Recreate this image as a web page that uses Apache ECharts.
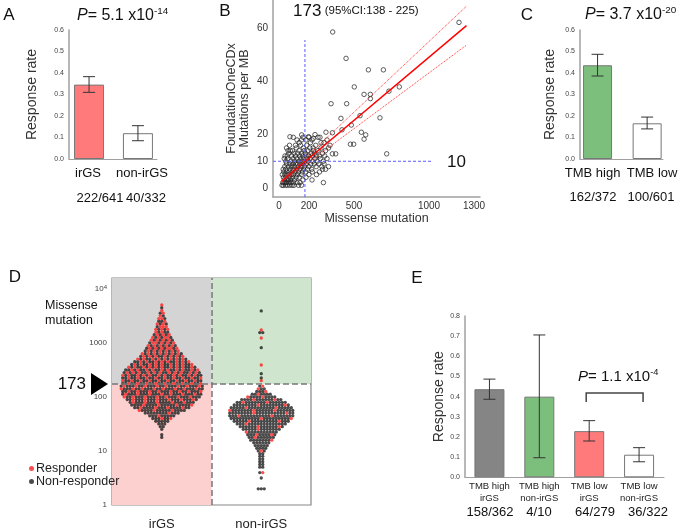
<!DOCTYPE html>
<html><head><meta charset="utf-8">
<script src="https://cdn.jsdelivr.net/npm/echarts@6/dist/echarts.min.js"></script>
<style>html,body{margin:0;padding:0;background:#fff}#c{width:680px;height:531px}</style>
</head><body><div id="c"></div>
<script>
// ---------- Panel A ----------
const catA = ['irGS', 'non-irGS'];
const rateA = [0.346, 0.120];
const loA = [0.310, 0.085];
const hiA = [0.383, 0.155];
const countsA = ['222/641', '40/332'];
const pA = ['5.1', '-14'];
// ---------- Panel C ----------
const catC = ['TMB high', 'TMB low'];
const rateC = [0.436, 0.166];
const loC = [0.386, 0.140];
const hiC = [0.487, 0.195];
const countsC = ['162/372', '100/601'];
const pC = ['3.7', '-20'];
// ---------- Panel E ----------
const catE = ['TMB high\nirGS', 'TMB high\nnon-irGS', 'TMB low\nirGS', 'TMB low\nnon-irGS'];
const rateE = [0.437, 0.400, 0.229, 0.112];
const loE = [0.387, 0.097, 0.180, 0.077];
const hiE = [0.487, 0.706, 0.281, 0.147];
const countsE = ['158/362', '4/10', '64/279', '36/322'];
const pE = ['1.1', '-4'];
// ---------- Panel B (missense mutation vs FoundationOneCDx mut/MB) ----------
const bPoints = [
 [358,58.5],[447,48.6],[596,44.3],[696,44.3],[502,37.9],[802,37.9],[567,35.1],[609,35.1],[609,33.5],
 [733,36.3],[347,31.6],[451,31.6],[413,26.1],[540,27.1],[673,26.3],[482,23.6],[420,21.8],[313,20.9],
 [549,20.9],[578,19.9],[567,18.3],[476,16.4],[498,16.4],[356,12.8],[378,12.8],[718,12.8],[296,2.0],
 [220,3.0],[1200,62.1],[73,19.2],[151,19.9],[196,19.2],[229,18.6],[273,19.0],[356,20.7],
 [25,2],[30,4],[32,6],[35,3],[38,8],[40,5],[42,2],[45,7],[48,4],[50,9],[52,6],[55,3],[58,11],[60,5],
 [62,8],[65,2],[66,13],[68,6],[70,4],[72,9],[74,7],[75,14],[78,3],[80,10],[82,5],[84,8],[85,12],[88,6],
 [90,4],[92,9],[94,11],[95,7],[98,5],[100,13],[102,8],[104,3],[105,10],[108,6],[110,12],[112,9],[114,4],
 [115,15],[118,7],[120,11],[122,5],[124,9],[125,13],[128,8],[130,6],[132,10],[134,14],[135,4],[138,12],
 [140,7],[142,9],[144,16],[145,11],[148,5],[150,8],[152,13],[154,10],[155,6],[158,12],[160,9],[162,15],
 [164,7],[165,11],[168,14],[170,8],[172,10],[175,13],[178,6],[180,12],[182,9],[185,16],[188,11],[190,7],
 [192,14],[195,10],[198,12],[200,8],[205,15],[208,11],[210,17],[212,9],[215,13],[218,7],[220,12],[225,10],
 [228,15],[230,14],[235,9],[238,13],[240,11],[245,16],[248,8],[250,12],[255,10],[260,14],[265,9],[270,12],
 [275,11],[280,15],[285,8],[290,13],[295,10],[300,9],[305,12],[310,7],[320,11],[330,8],
 [20,1],[28,1],[33,2],[44,1],[50,2],[56,1],[64,3],[72,1],[80,2],[88,1],[96,2],[45,10],[55,12],[35,11],
 [28,7],[22,5],[60,14],[40,12],[70,16],[50,15],[90,14],[110,16],[120,18],[135,17],[150,18],[95,19],
 [160,19],[180,18],[200,19],[220,18],[240,20],[260,19],[280,17],[300,17],[320,18],[340,16],[250,5],
 [270,6],[290,7],[310,14],[330,15],[200,5],[222,6],[180,4],[160,3],[140,2],[120,2],[130,1],[100,1],[150,1]
];
const fitX = [20, 1250];
const fitY = [2.6, 60.9];
const upperY = [3.0, 68.2];
const lowerY = [2.2, 53.6];
const cutMissense = 173;
const cutF1 = 10;
const cutVLineY = [-3.4, 55.5];   // extent of the vertical cut-off line (F1 mut/MB)
const cutHLineX = [-40, 1027];    // extent of the horizontal cut-off line (missense)
const bCI = '(95%CI:138 - 225)';
const bXTicks = [0, 200, 500, 1000, 1300];
const bYTicks = [0, 10, 20, 40, 60];
// ---------- Panel D (beeswarm rows: log10 missense, dots in row, responders in row) ----------
const irgsRowLog = [3.70,3.65,3.60,3.55,3.50,3.45,3.40,3.35,3.30,3.25,3.20,3.15,3.10,3.05,3.00,2.95,2.90,2.85,2.80,2.75,2.70,2.65,2.60,2.55,2.50,2.45,2.40,2.35,2.30,2.25,
                    2.20,2.15,2.10,2.05,2.00,1.95,1.90,1.85,1.80,1.75,1.70,1.65,1.60,1.55,1.50,1.45,1.40,1.30,1.25];
const irgsRowN   = [1,1,1,2,2,3,3,4,4,5,5,6,7,8,9,10,11,12,14,15,17,19,21,23,25,26,27,27,27,27,
                    28,28,27,27,26,24,22,21,19,16,12,9,7,5,3,2,1,1,1];
const irgsRowR   = [1,0,1,1,1,2,1,2,3,3,2,3,4,4,5,5,6,6,7,7,8,8,9,10,10,11,11,9,9,9,
                    8,8,8,7,7,6,5,4,4,3,1,1,2,0,0,0,0,0,0];
const nonRowLog  = [3.59,3.24,3.19,3.09,2.91,2.59,2.43,2.35,2.30,
                    2.20,2.15,2.10,2.05,2.00,1.95,1.90,1.85,1.80,1.75,1.70,1.65,1.60,1.55,1.50,1.45,1.40,1.35,1.30,1.25,1.20,1.15,1.10,1.05,1.00,0.95,0.90,0.85,0.80,0.75,0.70,0.60,0.50,0.30];
const nonRowN    = [1,1,2,1,1,1,1,1,1,
                    2,3,4,7,10,14,17,19,21,22,22,22,21,19,17,15,13,11,10,9,8,6,5,4,3,2,2,2,2,2,2,2,1,3];
const nonRowR    = [0,1,0,1,0,1,0,0,1,
                    1,1,1,1,2,2,2,2,2,3,2,2,2,2,1,2,1,1,2,1,1,0,0,0,1,0,0,0,0,0,0,1,0,0];
const dGroups = ['irGS', 'non-irGS'];
const dThreshold = 173;
const dYTicks = [1, 10, 100, 1000, 10000];

const FONT = "'Liberation Sans', Arial, Helvetica, sans-serif";
const AX = '#a0a0a0';
const BLUE = '#5c5cff';

// build beeswarm points (layout only: rows of dots spread around the group centre)
const PITCH = 0.0302;
const redPts = [], blackPts = [];
function swarm(center, logs, ns, rs) {
  logs.forEach((lg, k) => {
    const n = ns[k], r = rs[k];
    const reds = new Set();
    const phase = ((k * 0.618) % 1);
    for (let j = 0; j < r; j++) reds.add(Math.min(n - 1, Math.floor((j + phase) * n / r)));
    let extra = 0;
    while (reds.size < r) { if (!reds.has(extra)) reds.add(extra); extra++; }
    for (let i = 0; i < n; i++) {
      const pt = [center + (i - (n - 1) / 2) * PITCH, Math.pow(10, lg)];
      (reds.has(i) ? redPts : blackPts).push(pt);
    }
  });
}
swarm(0.5, irgsRowLog, irgsRowN, irgsRowR);
swarm(1.5, nonRowLog, nonRowN, nonRowR);
const D_MAX = Math.pow(10, 4.2);

function errRender(params, api) {
  const x = api.value(0), lo = api.value(1), hi = api.value(2);
  const a = api.coord([x, hi]), b = api.coord([x, lo]);
  const w = 6, st = { fill: '#333' };
  return { type: 'group', children: [
    { type: 'rect', shape: { x: a[0] - 0.5, y: a[1], width: 1, height: b[1] - a[1] }, style: st },
    { type: 'rect', shape: { x: a[0] - w, y: a[1] - 0.5, width: 2 * w, height: 1 }, style: st },
    { type: 'rect', shape: { x: b[0] - w, y: b[1] - 0.5, width: 2 * w, height: 1 }, style: st }
  ]};
}

function rateY(idx, nameGap, max, interval) {
  return { gridIndex: idx, type: 'value', min: 0, max: max, interval: interval,
    axisLine: { show: true, onZero: false, lineStyle: { color: AX, width: 1.5 } }, axisTick: { show: false },
    splitLine: { show: false },
    axisLabel: { fontSize: 7, color: '#444', fontFamily: FONT, margin: 5, formatter: v => v.toFixed(1) },
    name: 'Response rate', nameLocation: 'middle', nameGap: nameGap,
    nameTextStyle: { fontSize: 14, color: '#333', fontFamily: FONT } };
}
function catX(idx, min, max, cats, fs, margin, lh, showLabels) {
  return { gridIndex: idx, type: 'value', min: min, max: max,
    axisLine: { show: true, onZero: false, lineStyle: { color: AX, width: 1 } }, axisTick: { show: false },
    splitLine: { show: false },
    axisLabel: { show: showLabels, customValues: cats.map((c, i) => i), formatter: v => cats[Math.round(v)],
      fontSize: fs, color: '#222', fontFamily: FONT, margin: margin, lineHeight: lh } };
}
function bars(idx, rates, colors, width) {
  return { type: 'bar', xAxisIndex: idx, yAxisIndex: idx, barWidth: width, silent: true,
    data: rates.map((v, i) => ({ value: [i, v], itemStyle: { color: colors[i], borderColor: '#777', borderWidth: 1 } })) };
}
function errs(idx, lo, hi) {
  return { type: 'custom', xAxisIndex: idx, yAxisIndex: idx, renderItem: errRender, z: 5, silent: true,
    encode: { x: 0, y: [1, 2] }, data: lo.map((l, i) => [i, l, hi[i]]) };
}
function refLine(data, color, type, width) {
  return { type: 'line', xAxisIndex: 1, yAxisIndex: 1, data: data, symbol: 'none', silent: true,
    lineStyle: { color: color, width: width, type: type }, itemStyle: { color: color } };
}

const chart = echarts.init(document.getElementById('c'), null, { renderer: 'canvas' });
const option = {
  animation: false,
  textStyle: { fontFamily: FONT },
  grid: [
    { left: 69, top: 30, width: 88, height: 129 },                 // A
    { left: 273, top: 0, width: 207, height: 197 },                // B
    { left: 580, top: 30, width: 83, height: 129 },                // C
    { left: 112, top: 278, width: 199, height: 227, show: true, borderColor: '#888', borderWidth: 1.2, backgroundColor: 'transparent' }, // D
    { left: 465, top: 316, width: 199, height: 161.3 }             // E
  ],
  xAxis: [
    catX(0, -0.41, 1.39, catA, 13, 8, 14, false),
    { gridIndex: 1, type: 'value', min: -40, max: 1340,
      axisLine: { show: true, onZero: false, lineStyle: { color: AX, width: 1.5 } }, axisTick: { show: false }, splitLine: { show: false },
      axisLabel: { customValues: bXTicks, formatter: v => String(v), fontSize: 10, color: '#333', margin: 4 },
      name: 'Missense mutation', nameLocation: 'middle', nameGap: 15, nameTextStyle: { fontSize: 12.5, color: '#333' } },
    catX(2, -0.354, 1.32, catC, 13, 8, 14, false),
    { gridIndex: 3, type: 'value', min: 0, max: 2,
      axisLine: { show: false, onZero: false }, axisTick: { show: false }, splitLine: { show: false },
      axisLabel: { customValues: [0.5, 1.5], formatter: v => dGroups[v < 1 ? 0 : 1], fontSize: 13, color: '#222', margin: 13 } },
    catX(4, -0.49, 3.5, catE, 9.5, 3, 12, true)
  ],
  yAxis: [
    rateY(0, 30, 0.6, 0.1),
    { gridIndex: 1, type: 'value', min: -3.4, max: 70.5,
      axisLine: { show: true, onZero: false, lineStyle: { color: AX, width: 1.5 } }, axisTick: { show: false }, splitLine: { show: false },
      axisLabel: { customValues: bYTicks, fontSize: 10, color: '#333', margin: 5 },
      name: 'FoundationOneCDx\nMutations per MB', nameLocation: 'middle', nameGap: 22,
      nameTextStyle: { fontSize: 12.5, color: '#333', lineHeight: 13 } },
    rateY(2, 23, 0.6, 0.1),
    { gridIndex: 3, type: 'log', logBase: 10, min: 1, max: D_MAX,
      axisLine: { show: false, onZero: false }, axisTick: { show: false }, splitLine: { show: false },
      axisLabel: { customValues: dYTicks, fontSize: 8, color: '#444', margin: 5,
        formatter: v => v >= 10000 ? '10{s|4}' : String(Math.round(v)),
        rich: { s: { fontSize: 6, verticalAlign: 'top', color: '#444' } } } },
    rateY(4, 18, 0.8, 0.1)
  ],
  legend: { data: ['Responder', 'Non-responder'], orient: 'vertical', left: 24, top: 457,
    icon: 'circle', itemWidth: 5, itemHeight: 5, itemGap: 0, selectedMode: false,
    textStyle: { fontSize: 12.5, color: '#222', padding: [0, 0, 0, -3], lineHeight: 13 } },
  series: [
    bars(0, rateA, ['#ff7b7b', '#ffffff'], 30), errs(0, loA, hiA),
    refLine(cutVLineY.map(y => [cutMissense, y]), BLUE, [3, 2], 1),
    refLine(cutHLineX.map(x => [x, cutF1]), BLUE, [3, 2], 1),
    { type: 'scatter', xAxisIndex: 1, yAxisIndex: 1, data: bPoints, symbol: 'circle', symbolSize: 4.5, silent: true,
      itemStyle: { color: 'rgba(0,0,0,0)', borderColor: '#222', borderWidth: 0.9 } },
    refLine(fitX.map((x, i) => [x, fitY[i]]), '#ff0000', 'solid', 1.5),
    refLine(fitX.map((x, i) => [x, upperY[i]]), '#ff3030', 'dotted', 1),
    refLine(fitX.map((x, i) => [x, lowerY[i]]), '#ff3030', 'dotted', 1),
    bars(2, rateC, ['#7cbf7c', '#ffffff'], 29), errs(2, loC, hiC),
    { name: 'Non-responder', type: 'scatter', xAxisIndex: 3, yAxisIndex: 3, data: blackPts, symbolSize: 3.3, silent: true,
      itemStyle: { color: '#1e1e1e' },
      markArea: { silent: true, data: [
        [{ coord: [0, dThreshold], itemStyle: { color: '#d4d4d4' } }, { coord: [1, D_MAX] }],
        [{ coord: [1, dThreshold], itemStyle: { color: '#cfe5cd' } }, { coord: [2, D_MAX] }],
        [{ coord: [0, 1], itemStyle: { color: '#fdd0d0' } }, { coord: [1, dThreshold] }]] },
      markLine: { silent: true, symbol: 'none', label: { show: false },
        lineStyle: { color: '#777', type: 'dashed', width: 1.5 },
        data: [[{ coord: [1, 1] }, { coord: [1, D_MAX] }], [{ coord: [0, dThreshold] }, { coord: [2, dThreshold] }]] } },
    { name: 'Responder', type: 'scatter', xAxisIndex: 3, yAxisIndex: 3, data: redPts, symbolSize: 3.3, silent: true,
      itemStyle: { color: '#ff1f1f' } },
    bars(4, rateE, ['#858585', '#7cbf7c', '#ff7b7b', '#ffffff'], 30), errs(4, loE, hiE)
  ]
};
chart.setOption(option);

function pTitle(x, y, p, size) {
  return { type: 'text', x: x, y: y, z: 10, style: {
    text: '{i|P}{n|= ' + p[0] + ' x10}{s|' + p[1] + '}', textVerticalAlign: 'middle',
    rich: { i: { fontSize: size, fontStyle: 'italic', fontFamily: FONT, fill: '#111', lineHeight: size + 4 },
            n: { fontSize: size, fontFamily: FONT, fill: '#111', lineHeight: size + 4 },
            s: { fontSize: size * 0.62, fontFamily: FONT, fill: '#111', verticalAlign: 'top', lineHeight: size + 4 } } } };
}
function txt(x, y, t, size, align, extra) {
  return Object.assign({ type: 'text', x: x, y: y, z: 10, style: { text: t, fontSize: size, fontFamily: FONT, fill: '#111',
    textAlign: align || 'center', textVerticalAlign: 'middle' } }, extra || {});
}
const gfx = [
  txt(9, 15, 'A', 17), txt(225, 11, 'B', 17), txt(527, 15, 'C', 17), txt(15, 277, 'D', 17), txt(417, 278, 'E', 17),
  pTitle(77, 16, pA, 16), pTitle(585, 15, pC, 16), pTitle(578, 377, pE, 15),
  { type: 'text', x: 293, y: 11, z: 10, style: { text: '{a|' + cutMissense + '} {b|' + bCI + '}', textVerticalAlign: 'middle',
    rich: { a: { fontSize: 17, fontFamily: FONT, fill: '#111' }, b: { fontSize: 11.5, fontFamily: FONT, fill: '#111' } } } },
  txt(447, 162, String(cutF1), 17, 'left'),
  txt(45, 306, 'Missense', 12.5, 'left'), txt(45, 321, 'mutation', 12.5, 'left')
];
// category labels of A and C (placed under each bar, nudged as in the figure)
const nudgeA = [-1, 4], nudgeC = [-5, 5];
catA.forEach((c, i) => { const p = chart.convertToPixel({ xAxisIndex: 0, yAxisIndex: 0 }, [i, 0]); gfx.push(txt(p[0] + nudgeA[i], p[1] + 14, c, 13)); });
catC.forEach((c, i) => { const p = chart.convertToPixel({ xAxisIndex: 2, yAxisIndex: 2 }, [i, 0]); gfx.push(txt(p[0] + nudgeC[i], p[1] + 14, c, 13)); });
[100, 146].forEach((cx, i) => gfx.push(txt(cx, 198, countsA[i], 13)));
[593, 651].forEach((cx, i) => gfx.push(txt(cx, 197, countsC[i], 13)));
[490, 539, 595, 648].forEach((cx, i) => gfx.push(txt(cx, 512, countsE[i], 13)));
// threshold arrow in D
const tp = chart.convertToPixel({ xAxisIndex: 3, yAxisIndex: 3 }, [0, dThreshold]);
gfx.push({ type: 'polygon', z: 10, shape: { points: [[tp[0] - 21, tp[1] - 11], [tp[0] - 4, tp[1]], [tp[0] - 21, tp[1] + 11]] }, style: { fill: '#000' } });
gfx.push(txt(tp[0] - 26, tp[1], String(dThreshold), 17, 'right'));
// bracket in E
const b1 = chart.convertToPixel({ xAxisIndex: 4, yAxisIndex: 4 }, [2, 0.373]);
const b2 = chart.convertToPixel({ xAxisIndex: 4, yAxisIndex: 4 }, [3, 0.418]);
gfx.push({ type: 'polyline', z: 10, shape: { points: [[b1[0] - 3, b1[1]], [b1[0] - 3, b2[1]], [b2[0] + 4, b2[1]], [b2[0] + 4, b1[1]]] },
  style: { stroke: '#444', lineWidth: 1.5, fill: null } });
chart.setOption({ graphic: gfx });
</script></body></html>
